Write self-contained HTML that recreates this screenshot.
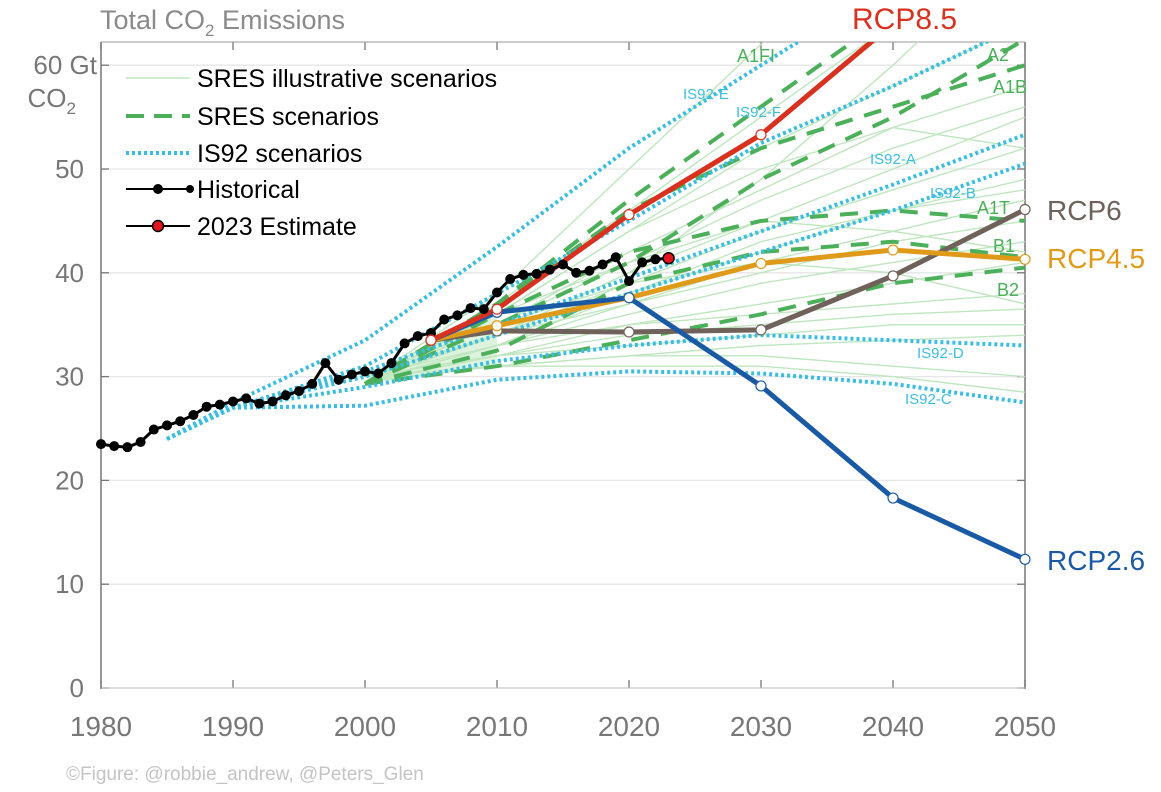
<!DOCTYPE html>
<html><head><meta charset="utf-8"><style>
body{margin:0;background:#fff}
svg{display:block;font-family:"Liberation Sans",sans-serif}
</style></head><body>
<svg id="chart" width="1161" height="792">
<defs><clipPath id="plotclip"><rect x="101" y="42" width="924" height="646"/></clipPath></defs>
<text x="100" y="29" font-size="27" fill="#8a8a8a">Total CO<tspan font-size="17" dy="7">2</tspan><tspan dy="-7"> Emissions</tspan></text>
<g id="grid"></g>
<g id="axes"></g>
<g id="series" clip-path="url(#plotclip)"></g>
<g id="markers"></g>
<g id="labels"></g>
<g id="legend"></g>
<text x="66" y="780" font-size="19" fill="#c4c4c4">©Figure: @robbie_andrew, @Peters_Glen</text>
</svg>
<script>
const histYears=[1980,1981,1982,1983,1984,1985,1986,1987,1988,1989,1990,1991,1992,1993,1994,1995,1996,1997,1998,1999,2000,2001,2002,2003,2004,2005,2006,2007,2008,2009,2010,2011,2012,2013,2014,2015,2016,2017,2018,2019,2020,2021,2022];
const histVals=[23.5,23.3,23.2,23.7,24.9,25.3,25.7,26.3,27.1,27.3,27.6,27.9,27.4,27.6,28.2,28.6,29.3,31.3,29.7,30.2,30.5,30.3,31.3,33.2,33.9,34.2,35.5,35.9,36.6,36.5,38.1,39.4,39.8,39.9,40.3,40.8,40.0,40.2,40.8,41.5,39.2,41.0,41.3];
const estYear=2023, estVal=41.4;
const rcpYears=[2005,2010,2020,2030,2040,2050];
const rcp85=[33.5,36.5,45.6,53.3,64,75];
const rcp45=[33.5,34.9,37.6,40.9,42.2,41.3];
const rcp6=[33.5,34.4,34.3,34.5,39.7,46.1];
const rcp26=[33.5,36.2,37.6,29.1,18.3,12.4];
const sresYears=[2000,2010,2020,2030,2040,2050];
const sresA1FI=[29.3,37,47,56,65,75];
const sresA2=[29.3,35,41,49,55,62.5];
const sresA1B=[29.3,37,46,52,56,60];
const sresA1T=[29.3,36,42,45,46,45];
const sresB1=[29.3,32.5,39,42,43,41.5];
const sresB2=[29.3,31,33.5,36,39,40.5];
const illus=[
[29.5,38,50,62,72,80],[29.5,37,46,55,64,72],[30,36,44,52,58,64],[29.5,35,42,48,54,58],
[30,36,41,47,52,56],[29.5,34,40,45,50,55],[30,35,39,44,48,52],[29.5,34,38,42,46,49],
[30,34,37,41,44,47],[29.5,33,37,40,43,45],[30,33,36,39,41,43],[29.5,33,35,37,39,41],
[30,32,35,36,37,38],[29.5,32,34,35,36,36.5],[30,32,33,34,35,35],[29.5,31,32,33,33.5,34],
[30,31,32,32,31,30],[29.5,31,31,31,30,28.5],[30,34,40,49,60,72],[29.5,36,44,50,54,52],
[30,35,41,45,44,42],[29.5,33,38,43,46,48],[30,34,39,41,40,37]];
const is92Years=[1985,1990,2000,2010,2020,2030,2040,2050];
const is92E=[24,27.5,33.5,42.5,52,60,68,76];
const is92F=[24,27,31,38,45,52.5,58,64];
const is92A=[24,27,30.5,35,39.5,44,48.5,53.3];
const is92B=[24,27,30,34,38,42,46,50.5];
const is92D=[24,27,29,31.5,33,34,33.5,33];
const is92C=[24,27,27.2,29.7,30.5,30.3,29.3,27.5];
const xTicks=[1980,1990,2000,2010,2020,2030,2040,2050];
const yTicks=[0,10,20,30,40,50,60];
const yTickLabels=["0","10","20","30","40","50",""];

const NS="http://www.w3.org/2000/svg";
const X=y=>101+(y-1980)*13.2;
const Y=v=>688-v*10.38;
function mk(tag,attrs,parent){const e=document.createElementNS(NS,tag);for(const k in attrs)e.setAttribute(k,attrs[k]);parent.appendChild(e);return e;}
const gGrid=document.getElementById('grid'),gAx=document.getElementById('axes'),gS=document.getElementById('series'),gM=document.getElementById('markers'),gL=document.getElementById('labels'),gLeg=document.getElementById('legend');
function pts(xs,vs){return xs.map((x,i)=>X(x).toFixed(1)+','+Y(vs[i]).toFixed(1)).join(' ');}

yTicks.forEach((t,i)=>{
 if(t>0){const l=mk('line',{x1:101,x2:1025,y1:Y(t),y2:Y(t),stroke:'#e6e6e6','stroke-width':1.3},gGrid);
 
 }
 mk('line',{x1:101,x2:109,y1:Y(t),y2:Y(t),stroke:'#777','stroke-width':1.3},gAx);
 mk('line',{x1:1017,x2:1025,y1:Y(t),y2:Y(t),stroke:'#777','stroke-width':1.3},gAx);
 const tx=mk('text',{x:84,y:Y(t)+9,'font-size':26,fill:'#777','text-anchor':'end'},gAx);tx.textContent=yTickLabels[i];
 
 
});
const u1=mk('text',{x:97,y:Y(60)+9,'font-size':26,fill:'#777','text-anchor':'end'},gAx);u1.textContent='60 Gt';


const u2=mk('text',{x:76,y:Y(60)+42,'font-size':26,fill:'#777','text-anchor':'end'},gAx);u2.innerHTML='CO<tspan font-size="17" dy="7">2</tspan>';


xTicks.forEach(t=>{
 mk('line',{x1:X(t),x2:X(t),y1:688,y2:680,stroke:'#777','stroke-width':1.3},gAx);
 mk('line',{x1:X(t),x2:X(t),y1:42,y2:50,stroke:'#777','stroke-width':1.3},gAx);
 const tx=mk('text',{x:X(t),y:736,'font-size':28,fill:'#777','text-anchor':'middle'},gAx);tx.textContent=t;
 
 
});
mk('line',{x1:101,x2:101,y1:42,y2:689,stroke:'#777','stroke-width':1.5},gAx);
mk('line',{x1:1025,x2:1025,y1:42,y2:689,stroke:'#777','stroke-width':1.5},gAx);
mk('line',{x1:101,x2:1025,y1:42,y2:42,stroke:'#999','stroke-width':1},gAx);
mk('line',{x1:101,x2:1025,y1:688,y2:688,stroke:'#bbb','stroke-width':1},gAx);

const wedge=mk('polygon',{points:pts([2000,2010,2010],[29.3,37,31]),fill:'#d6f0d6',opacity:0.8},gS);


illus.forEach(s=>{const p=mk('polyline',{points:pts(sresYears,s),fill:'none',stroke:'#bfe6bf','stroke-width':1.4},gS);
 
 });
[sresA1FI,sresA2,sresA1B,sresA1T,sresB1,sresB2].forEach(s=>{const p=mk('polyline',{points:pts(sresYears,s),fill:'none',stroke:'#4caf5a','stroke-width':4,'stroke-dasharray':'18,12'},gS);
 
 });
[is92E,is92F,is92A,is92B,is92D,is92C].forEach(s=>{const p=mk('polyline',{points:pts(is92Years,s),fill:'none',stroke:'#3cbde0','stroke-width':4,'stroke-dasharray':'3,3'},gS);
 
 });
const rcps=[[rcp6,'#6e625a','rcp6'],[rcp45,'#e09a1a','rcp45'],[rcp26,'#1a5aa5','rcp26'],[rcp85,'#d8311f','rcp85']];
rcps.forEach(([d,c,n])=>{const p=mk('polyline',{points:pts(rcpYears,d),fill:'none',stroke:c,'stroke-width':5,'stroke-linejoin':'round'},gS);
 
 });
const h=mk('polyline',{points:pts(histYears.concat([estYear]),histVals.concat([estVal])),fill:'none',stroke:'#000','stroke-width':3},gS);


histYears.forEach((y,i)=>{const c=mk('circle',{cx:X(y),cy:Y(histVals[i]),r:5,fill:'#000'},gM);
 
 });
const est=mk('circle',{cx:X(estYear),cy:Y(estVal),r:5.5,fill:'#e3141b',stroke:'#000','stroke-width':1.5},gM);


rcps.forEach(([d,c,n])=>{rcpYears.forEach((y,i)=>{if(Y(d[i])<42)return;const m=mk('circle',{cx:X(y),cy:Y(d[i]),r:5,fill:'#fff',stroke:c,'stroke-width':1.2},gM);
 
 });});

function lab(x,y,t,c,fs,n){const e=mk('text',{x:x,y:y,'font-size':fs,fill:c},gL);e.textContent=t;
 
 }
lab(852,29,'RCP8.5','#d8311f',30,'rcp85-label');
lab(1047,220,'RCP6','#6e625a',28,'rcp6-label');
lab(1047,268,'RCP4.5','#e09a1a',28,'rcp45-label');
lab(1047,570,'RCP2.6','#1a5aa5',28,'rcp26-label');
[['A1FI',737,62],['A2',987,61],['A1B',993,93],['A1T',977,214],['B1',993,252],['B2',997,296]].forEach(a=>lab(a[1],a[2],a[0],'#4caf5a',18,'sres-label-'+a[0].toLowerCase()));
[['IS92-E',683,99],['IS92-F',736,117],['IS92-A',870,164],['IS92-B',930,198],['IS92-D',917,358],['IS92-C',905,404]].forEach(a=>lab(a[1],a[2],a[0],'#3cbde0',15,'is92-label-'+a[0].toLowerCase()));

const legRows=[['SRES illustrative scenarios',78],['SRES scenarios',116],['IS92 scenarios',153],['Historical',189],['2023 Estimate',226]];
mk('line',{x1:126,x2:190,y1:78,y2:78,stroke:'#bfe6bf','stroke-width':1.5},gLeg);
mk('line',{x1:126,x2:190,y1:116,y2:116,stroke:'#4caf5a','stroke-width':4,'stroke-dasharray':'18,10'},gLeg);
mk('line',{x1:126,x2:190,y1:153,y2:153,stroke:'#3cbde0','stroke-width':4,'stroke-dasharray':'3,3'},gLeg);
mk('line',{x1:126,x2:190,y1:189,y2:189,stroke:'#000','stroke-width':2},gLeg);
mk('circle',{cx:158,cy:189,r:5,fill:'#000'},gLeg);mk('circle',{cx:190,cy:189,r:4,fill:'#000'},gLeg);
mk('line',{x1:126,x2:190,y1:226,y2:226,stroke:'#000','stroke-width':2},gLeg);
mk('circle',{cx:158,cy:226,r:5.5,fill:'#e3141b',stroke:'#000','stroke-width':1.5},gLeg);
legRows.forEach(([t,y])=>{const e=mk('text',{x:197,y:y+9,'font-size':25,fill:'#000'},gLeg);e.textContent=t;
 
 });
</script>
</body></html>
